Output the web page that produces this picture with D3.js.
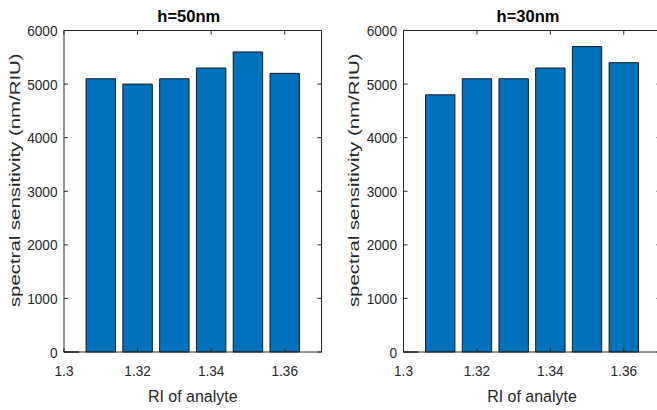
<!DOCTYPE html>
<html>
<head>
<meta charset="utf-8">
<script src="https://cdn.jsdelivr.net/npm/d3@7"></script>
<style>
  body { margin: 0; background: #fff; }
  svg { display: block; font-family: "Liberation Sans", Arial, sans-serif; }
</style>
</head>
<body>
<svg id="chart" width="657" height="410"></svg>
<script>
const ri = [1.30, 1.31, 1.32, 1.33, 1.34, 1.35, 1.36];
const sens50 = [0, 5100, 5000, 5100, 5300, 5600, 5200];
const sens30 = [0, 4800, 5100, 5100, 5300, 5700, 5400];
const titles = ["h=50nm", "h=30nm"];
const xTicks = [1.30, 1.32, 1.34, 1.36];
const xTickLabels = ["1.3", "1.32", "1.34", "1.36"];
const yTicks = [0, 1000, 2000, 3000, 4000, 5000, 6000];
const xLabel = "RI of analyte";
const yLabel = "spectral sensitivity (nm/RIU)";

const svg = d3.select("#chart");
const ink = "#262626";
const barColor = "#0072BD";
const plotTop = 30.5, plotBottom = 352;
const tickFont = 15.5, tickSqueeze = 0.88;

const panels = [
  { values: sens50, title: titles[0], left: 64, right: 321.5 },
  { values: sens30, title: titles[1], left: 403.5, right: 660.5 },
];

panels.forEach((p, i) => {
  const x = d3.scaleLinear().domain([1.30, 1.37]).range([p.left, p.right]);
  const y = d3.scaleLinear().domain([0, 6000]).range([plotBottom, plotTop]);
  const bw = (x(1.31) - x(1.30)) * 0.8;

  const g = svg.append("g");

  g.append("clipPath")
    .attr("id", `clip${i}`)
    .append("rect")
    .attr("x", p.left)
    .attr("y", plotTop - 1)
    .attr("width", p.right - p.left)
    .attr("height", plotBottom - plotTop + 2);

  // bars as paths so a zero value still shows its edge
  g.append("g")
    .attr("clip-path", `url(#clip${i})`)
    .selectAll("path")
    .data(ri.map((r, j) => ({ r, v: p.values[j] })))
    .join("path")
    .attr("d", d => {
      const x0 = x(d.r) - bw / 2, x1 = x(d.r) + bw / 2;
      return `M${x0},${y(0)}H${x1}V${y(d.v)}H${x0}Z`;
    })
    .attr("fill", barColor)
    .attr("stroke", "#1a1a1a")
    .attr("stroke-width", 1);

  // ticks (inside, all four sides)
  const ticks = g.append("g").attr("stroke", ink).attr("stroke-width", 1);
  xTicks.forEach(t => {
    ticks.append("line").attr("x1", x(t)).attr("x2", x(t)).attr("y1", plotBottom).attr("y2", plotBottom - 4);
    ticks.append("line").attr("x1", x(t)).attr("x2", x(t)).attr("y1", plotTop).attr("y2", plotTop + 4);
  });
  yTicks.forEach(t => {
    ticks.append("line").attr("x1", p.left).attr("x2", p.left + 4).attr("y1", y(t)).attr("y2", y(t));
    ticks.append("line").attr("x1", p.right).attr("x2", p.right - 4).attr("y1", y(t)).attr("y2", y(t));
  });

  g.append("rect")
    .attr("x", p.left)
    .attr("y", plotTop)
    .attr("width", p.right - p.left)
    .attr("height", plotBottom - plotTop)
    .attr("fill", "none")
    .attr("stroke", ink)
    .attr("stroke-width", 1);

  // tick labels
  g.append("g").selectAll("text")
    .data(xTicks)
    .join("text")
    .text((d, j) => xTickLabels[j])
    .attr("transform", d => `translate(${x(d)},376) scale(${tickSqueeze},1)`)
    .attr("text-anchor", "middle")
    .attr("fill", ink)
    .style("font-size", `${tickFont}px`);

  g.append("g").selectAll("text")
    .data(yTicks)
    .join("text")
    .text(d3.format("d"))
    .attr("transform", d => `translate(${p.left - 6.5},${y(d) + 0.36 * tickFont}) scale(${tickSqueeze},1)`)
    .attr("text-anchor", "end")
    .attr("fill", ink)
    .style("font-size", `${tickFont}px`);

  const mid = x(1.335);

  g.append("text")
    .text(p.title)
    .attr("x", mid - 4)
    .attr("y", 21.5)
    .attr("text-anchor", "middle")
    .attr("fill", "#000")
    .style("font-weight", "bold")
    .style("font-size", "16.5px");

  g.append("text")
    .text(xLabel)
    .attr("transform", `translate(${mid},401.5) scale(0.94,1)`)
    .attr("text-anchor", "middle")
    .attr("fill", ink)
    .style("font-size", "17px");

  g.append("text")
    .text(yLabel)
    .attr("transform", `translate(${p.left - 44.5},${(plotTop + plotBottom) / 2 - 11}) rotate(-90) scale(1,0.7)`)
    .attr("text-anchor", "middle")
    .attr("fill", ink)
    .style("font-size", "20.4px");
});
</script>
</body>
</html>
